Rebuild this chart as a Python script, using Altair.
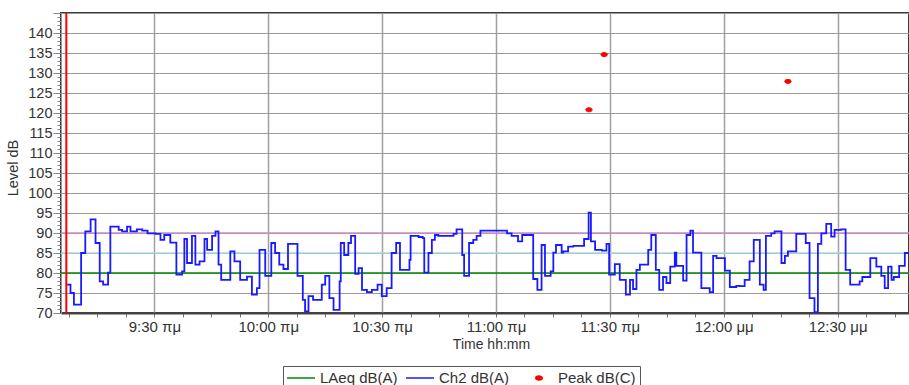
import altair as alt
import pandas as pd

# ---- data ----
# time axis: minutes after 21:00 (9:00 pm)
CH2_MIN = [6.8, 7.9, 8.8, 10.7, 11.8, 13.2, 14.5, 15.6, 16.5, 17.8, 18.4, 20.6, 21.5, 22.8, 23.7,
           25.4, 26.8, 28.2, 30.3, 31.6, 32.6, 34.2, 35.8, 37.3, 37.9, 38.6, 39.9, 40.8, 41.9, 43.2,
           43.9, 45.2, 46.1, 46.9, 47.6, 50.0, 51.1, 52.6, 54.4, 55.7, 57.0, 57.7, 59.2, 60.8, 61.8,
           62.9, 64.0, 65.2, 67.7, 69.1, 69.7, 70.6, 71.8, 74.1, 75.0, 76.1, 77.2, 78.8, 79.1, 80.0,
           81.1, 81.8, 82.9, 83.8, 84.7, 86.0, 87.3, 88.8, 89.9, 91.2, 92.5, 93.7, 94.7, 97.2, 97.5,
           99.6, 100.7, 101.1, 102.2, 103.1, 103.9, 104.8, 108.8, 109.6, 111.1, 111.6, 112.9, 114.0,
           114.9, 115.9, 122.9, 124.1, 125.8, 126.9, 129.8, 130.9, 132.0, 132.9, 134.4, 135.1, 135.8,
           137.3, 137.7, 139.0, 140.4, 143.2, 144.4, 145.0, 146.1, 147.9, 149.1, 149.8, 151.3, 152.6,
           154.2, 155.3, 156.1, 157.0, 157.9, 160.1, 160.9, 162.1, 163.0, 164.0, 164.9, 165.9, 167.1,
           167.5, 169.3, 170.2, 171.2, 171.9, 174.1, 176.3, 177.2, 178.1, 180.3, 181.6, 183.3, 184.2,
           185.5, 186.8, 187.9, 189.5, 190.5, 191.1, 192.5, 193.4, 195.2, 196.1, 196.9, 199.1, 201.6,
           202.6, 203.9, 204.8, 205.7, 207.0, 208.3, 209.2, 210.9, 212.1, 213.3, 215.8, 216.5, 218.6,
           220.2, 221.5, 222.4, 223.3, 224.2, 224.8, 226.2, 227.7, 228.8]
CH2_DB = [77.1, 75.0, 72.1, 85.0, 90.4, 93.4, 87.5, 77.9, 77.1, 80.1, 91.6, 90.8, 90.4, 91.6, 90.4,
          90.9, 90.6, 89.9, 89.8, 88.3, 89.5, 87.6, 79.6, 80.4, 88.5, 82.5, 89.3, 82.1, 82.9, 88.5,
          85.8, 89.3, 90.4, 82.1, 78.3, 85.4, 82.9, 78.3, 79.1, 74.6, 76.2, 85.8, 79.3, 87.5, 85.0,
          82.1, 81.0, 87.3, 79.3, 73.3, 70.4, 74.2, 73.3, 77.1, 79.3, 73.7, 70.8, 77.9, 87.5, 84.5,
          87.5, 89.3, 79.8, 81.2, 75.8, 75.2, 75.8, 77.1, 74.2, 76.2, 85.0, 87.5, 80.8, 83.3, 89.3,
          89.0, 88.7, 80.1, 85.0, 88.3, 89.5, 89.3, 89.8, 90.9, 84.5, 79.3, 87.5, 88.3,
          89.3, 90.6, 89.9, 89.3, 87.9, 89.5, 78.5, 75.8, 87.0, 79.3, 80.4, 85.1, 87.0,
          85.1, 85.4, 86.6, 86.8, 88.5, 95.1, 87.9, 85.8, 85.6, 87.3, 79.6, 82.2, 78.3,
          74.6, 78.3, 76.0, 80.8, 82.1, 85.8, 89.5, 80.8, 75.8, 79.0, 77.5, 81.6, 85.1,
          81.8, 78.1, 89.5, 90.6, 85.1, 76.2, 75.2, 84.3, 83.7, 80.6, 76.5, 76.8, 76.7,
          78.3, 82.9, 88.3, 77.1, 75.8, 89.3, 89.9, 90.4, 82.5, 84.3, 85.4, 89.8, 87.5,
          73.7, 70.2, 87.3, 89.9, 92.3, 89.1, 90.8, 90.9, 80.8, 77.1, 77.9, 79.0, 83.7,
          81.6, 79.3, 76.2, 81.6, 78.3, 79.0, 81.8, 85.0, 85.0]
LAEQ_MIN = [5.4, 228.8]
LAEQ_DB = [80, 80]
PEAK_MIN = [144.5, 148.5, 196.9]
PEAK_DB = [120.8, 134.6, 127.9]
THRESH_DB = [85, 90]
THRESH_COLORS = ["#a9dbe0", "#c88bcb"]
START_MIN = [6.8]
X_DOMAIN = [5.4, 228.8]
Y_DOMAIN = [70, 145]
TICK_MIN = [30, 60, 90, 120, 150, 180, 210]
TICK_LABELS = ["9:30 πμ", "10:00 πμ", "10:30 πμ", "11:00 πμ", "11:30 πμ", "12:00 μμ", "12:30 μμ"]
SERIES = ["LAeq dB(A)", "Ch2 dB(A)", "Peak dB(C)"]
SERIES_COLORS = ["#008a00", "#1a1aff", "#ff0000"]
# legend / marker glyphs: a horizontal stroke for the lines, a small dot for the peaks
STROKE_PATH = "M-2,0H2"
DOT_PATH = "M-0.46,0A0.46,0.29,0,1,1,0.46,0A0.46,0.29,0,1,1,-0.46,0Z"
LEGEND_SHAPES = [STROKE_PATH, STROKE_PATH, DOT_PATH]

FONT = "Liberation Sans"
TXT = "#333333"

ch2 = pd.DataFrame({"t": CH2_MIN, "db": CH2_DB})
laeq = pd.DataFrame({"t": LAEQ_MIN, "db": LAEQ_DB})
peak = pd.DataFrame({"t": PEAK_MIN, "db": PEAK_DB, "series": SERIES[2]})
thr = pd.DataFrame({"db": THRESH_DB, "c": THRESH_COLORS})
start = pd.DataFrame({"t": START_MIN})

label_expr = "''"
for m, lab in reversed(list(zip(TICK_MIN, TICK_LABELS))):
    label_expr = f"datum.value === {m} ? '{lab}' : ({label_expr})"

x_ticks = [7.5 * k for k in range(1, 31)]
y_ticks = list(range(70, 146))

x_axis = alt.Axis(
    values=x_ticks, labelExpr=label_expr, labelOverlap=False, labelFlush=False,
    labelFont=FONT, labelFontSize=15, labelColor=TXT, labelPadding=2,
    tickSize=4, tickColor="#777777",
    grid=True, gridColor="#a0a0a0", gridWidth=1.5,
    gridOpacity={"condition": {"test": "datum.value % 30 === 0", "value": 1}, "value": 0},
    domainColor="#444444", domainWidth=2,
    title="Time hh:mm", titleFont=FONT, titleFontSize=14, titleFontWeight="normal",
    titleColor=TXT, titleX=430, titleY=31.5, titleBaseline="middle",
)
y_axis = alt.Axis(
    values=y_ticks, labelExpr="datum.value % 5 === 0 && datum.value < 145 ? datum.value : ''",
    labelOverlap=False, labelFlush=False,
    labelFont=FONT, labelFontSize=14.5, labelColor=TXT, labelPadding=1,
    tickSize={"condition": {"test": "datum.value % 5 === 0", "value": 8}, "value": 4},
    tickColor="#888888",
    grid=True, gridColor="#9a9a9a", gridWidth=1,
    gridOpacity={"condition": {"test": "datum.value % 5 === 0", "value": 1}, "value": 0},
    domainColor="#999999", domainWidth=1,
    title="Level dB", titleFont=FONT, titleFontSize=14.5, titleFontWeight="normal",
    titleColor=TXT, titleX=-48, titleY=154.5, titleAlign="center", titleBaseline="middle",
)

x_enc = alt.X("t:Q", scale=alt.Scale(domain=X_DOMAIN, nice=False, zero=False), axis=x_axis)
y_enc = alt.Y("db:Q", scale=alt.Scale(domain=Y_DOMAIN, nice=False, zero=False), axis=y_axis)

legend = alt.Legend(
    title=None, orient="none", legendX=222, legendY=353, direction="horizontal",
    strokeColor="#555555", padding=4, gridAlign="all", columnPadding=5,
    labelFont=FONT, labelFontSize=15, labelColor=TXT,
    symbolSize=196, symbolOffset=6, labelOffset=11,
    symbolStrokeWidth=1.5, symbolOpacity=1,
)

thr_layer = alt.Chart(thr).mark_rule(strokeWidth=1.5).encode(
    y=y_enc, color=alt.Color("c:N", scale=None))
laeq_layer = alt.Chart(laeq).mark_line(strokeWidth=1.5, color=SERIES_COLORS[0]).encode(x=x_enc, y=y_enc)
ch2_layer = alt.Chart(ch2).mark_line(interpolate="step-after", strokeWidth=1.8,
                                     color=SERIES_COLORS[1]).encode(x=x_enc, y=y_enc)
start_layer = alt.Chart(start).mark_rule(color="#ff0000", strokeWidth=2).encode(x=x_enc)
peak_layer = alt.Chart(peak).mark_point(filled=True, opacity=1, size=196, strokeWidth=1).encode(
    x=x_enc, y=y_enc,
    fill=alt.Fill("series:N", scale=alt.Scale(domain=SERIES, range=SERIES_COLORS), legend=legend),
    stroke=alt.Stroke("series:N", scale=alt.Scale(domain=SERIES, range=SERIES_COLORS), legend=legend),
    shape=alt.Shape("series:N", scale=alt.Scale(domain=SERIES, range=LEGEND_SHAPES), legend=legend),
)

chart = alt.layer(thr_layer, laeq_layer, ch2_layer, start_layer, peak_layer).properties(
    width=848, height=300,
    autosize=alt.AutoSizeParams(type="none"),
    padding={"left": 61, "top": 13, "right": 0, "bottom": 72},
    background="white",
).configure_view(stroke="#3a3a3a", strokeWidth=2)

chart.save("out.html", embed_options={"renderer": "svg", "actions": False})
